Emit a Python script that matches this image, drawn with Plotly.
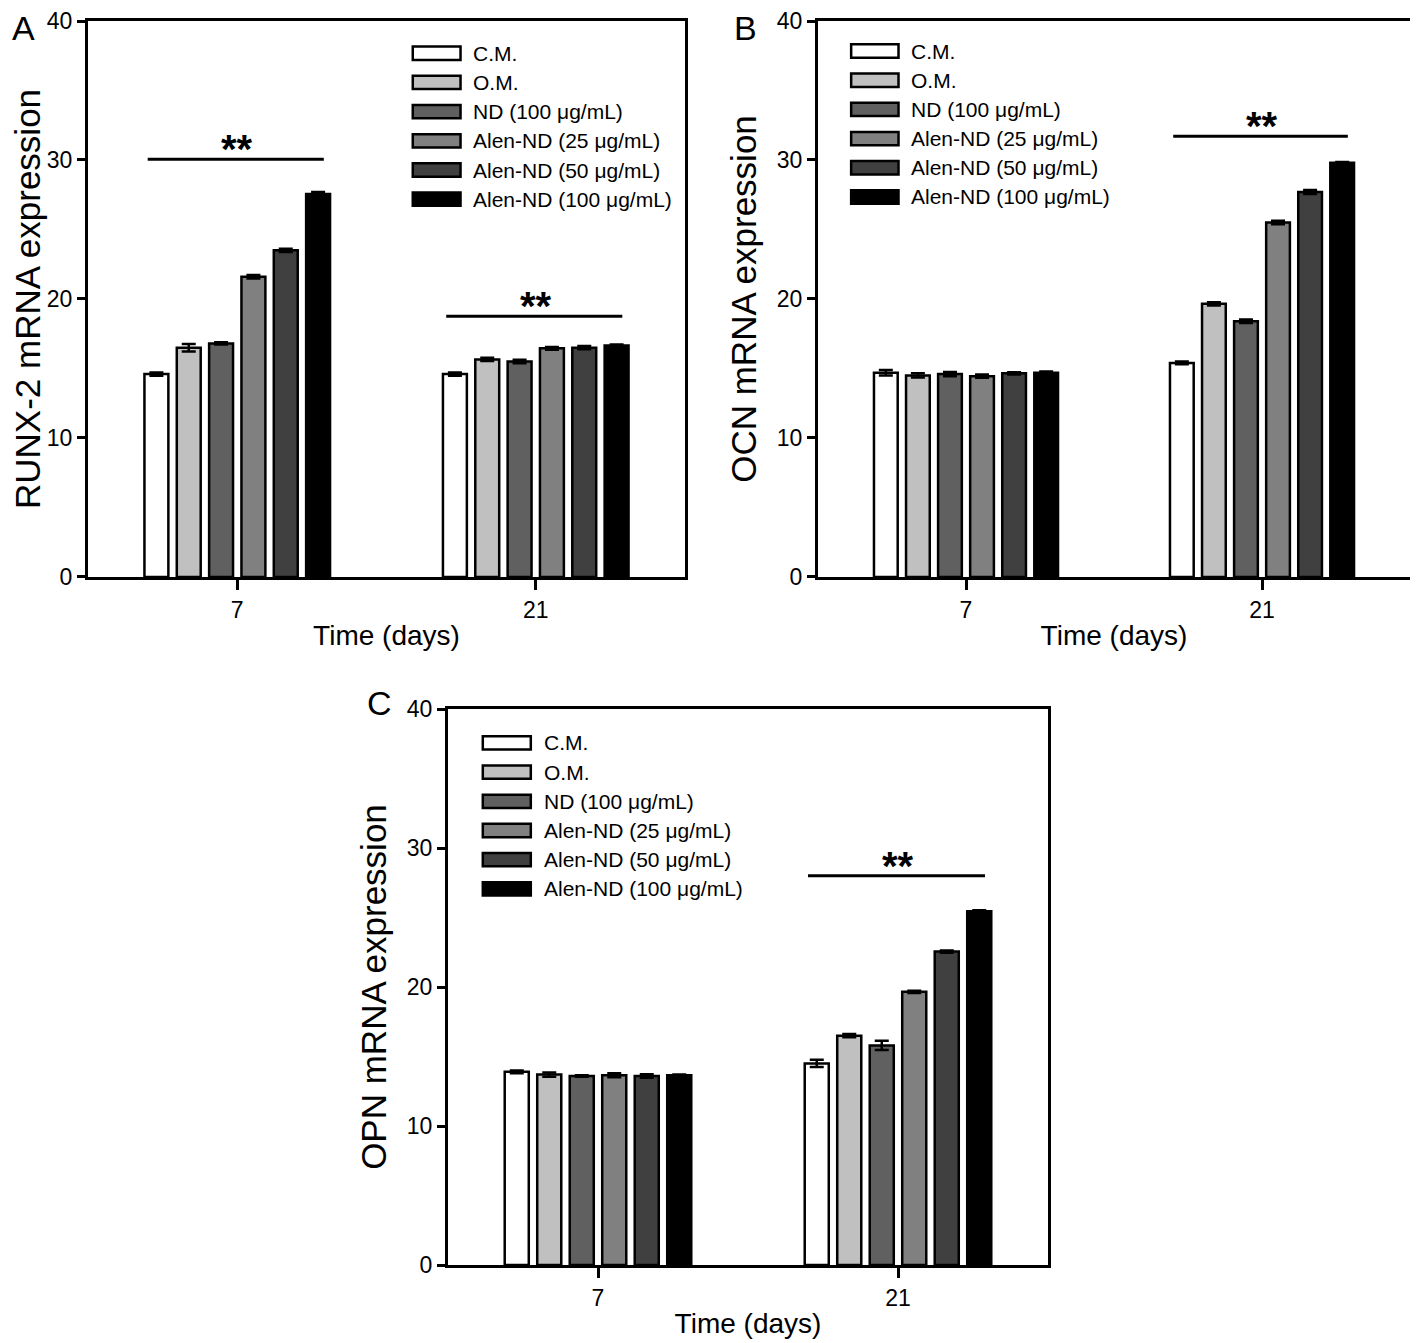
import plotly.graph_objects as go

groups = ["C.M.", "O.M.", "ND (100 μg/mL)", "Alen-ND (25 μg/mL)",
          "Alen-ND (50 μg/mL)", "Alen-ND (100 μg/mL)"]
colors = ["#ffffff", "#c0c0c0", "#606060", "#808080", "#404040", "#000000"]
days = ["7", "21"]

# RUNX-2
runx2_d7 = [14.6, 16.5, 16.8, 21.6, 23.5, 27.55]
runx2_d21 = [14.6, 15.65, 15.5, 16.45, 16.5, 16.65]
runx2_err_d7 = [0.12, 0.27, 0.08, 0.12, 0.12, 0.15]
runx2_err_d21 = [0.12, 0.12, 0.12, 0.1, 0.12, 0.08]

# OCN
ocn_d7 = [14.7, 14.5, 14.6, 14.45, 14.65, 14.7]
ocn_d21 = [15.4, 19.65, 18.4, 25.5, 27.7, 29.8]
ocn_err_d7 = [0.2, 0.15, 0.15, 0.12, 0.08, 0.08]
ocn_err_d21 = [0.1, 0.12, 0.12, 0.12, 0.15, 0.05]

# OPN
opn_d7 = [13.9, 13.7, 13.6, 13.65, 13.6, 13.65]
opn_d21 = [14.5, 16.5, 15.8, 19.65, 22.55, 25.45]
opn_err_d7 = [0.1, 0.15, 0.05, 0.15, 0.12, 0.05]
opn_err_d21 = [0.26, 0.12, 0.33, 0.08, 0.08, 0.08]

# significance bars: (day index, level)
runx2_sig = [(0, 30.05), (1, 18.75)]
ocn_sig = [(1, 31.7)]
opn_sig = [(1, 28.0)]

FONT = "Liberation Sans, Arial"

fig = go.Figure()

panels = [
    ("x", "y", runx2_d7, runx2_d21, runx2_err_d7, runx2_err_d21, runx2_sig,
     "RUNX-2 mRNA expression", (0.544, 0.942)),
    ("x2", "y2", ocn_d7, ocn_d21, ocn_err_d7, ocn_err_d21, ocn_sig,
     "OCN mRNA expression", (0.056, 0.946)),
    ("x3", "y3", opn_d7, opn_d21, opn_err_d7, opn_err_d21, opn_sig,
     "OPN mRNA expression", (0.058, 0.939)),
]

for xa, ya, d7, d21, e7, e21, sig, ytitle, (lx, ly) in panels:
    for i, g in enumerate(groups):
        fig.add_trace(go.Bar(
            x=days, y=[d7[i], d21[i]],
            name=g, xaxis=xa, yaxis=ya, showlegend=False,
            marker=dict(color=colors[i], line=dict(color="black", width=2.5)),
            error_y=dict(type="data", array=[e7[i], e21[i]], color="black",
                         thickness=2.5, width=7),
        ))
    for day_i, level in sig:
        fig.add_shape(type="line", xref=xa, yref=ya,
                      x0=day_i - 0.3, x1=day_i + 0.29, y0=level, y1=level,
                      line=dict(color="black", width=3))
        fig.add_annotation(x=day_i, y=level, xref=xa, yref=ya, text="<b>**</b>",
                           showarrow=False, yanchor="middle", yshift=10,
                           font=dict(family=FONT, size=40, color="black"))
    # legend swatches
    step = 0.0525
    for i, g in enumerate(groups):
        yc = ly - i * step
        fig.add_shape(type="rect", xref=f"{xa} domain", yref=f"{ya} domain",
                      x0=lx, x1=lx + 0.08, y0=yc - 0.012, y1=yc + 0.012,
                      fillcolor=colors[i], line=dict(color="black", width=2.5))
        fig.add_annotation(xref=f"{xa} domain", yref=f"{ya} domain",
                           x=lx + 0.098, y=yc, text=g, showarrow=False,
                           xanchor="left", yanchor="middle",
                           font=dict(family=FONT, size=21, color="black"))

axis_common = dict(showline=True, linecolor="black", linewidth=3, mirror=True,
                   showgrid=False, zeroline=False, ticks="outside",
                   tickwidth=3, tickcolor="black", automargin=False,
                   tickfont=dict(family=FONT, size=23, color="black"))

# page has a body margin; lay out in page pixels and shift
OFF = 8
W, H = 1410, 1335


def px_x(v):
    return (v - OFF) / W


def px_y(v):
    # squeeze slightly so the top tick labels are not clipped
    page = 21 + (v - 15) * (1244 / 1253)
    return 1 - (page - OFF) / H


doms_x = [(px_x(88), px_x(685)), (px_x(818), px_x(1410)), (px_x(448), px_x(1048))]
doms_y = [(px_y(575), px_y(15)), (px_y(575), px_y(15)), (px_y(1268), px_y(708))]

layout = {}
for k, p in enumerate(panels):
    xa, ya, ytitle = p[0], p[1], p[7]
    xname = "xaxis" if xa == "x" else "xaxis" + xa[1:]
    yname = "yaxis" if ya == "y" else "yaxis" + ya[1:]
    layout[xname] = dict(axis_common, domain=doms_x[k], anchor=ya,
                         ticklen=10, type="category",
                         title=dict(text="Time (days)", standoff=4,
                                    font=dict(family=FONT, size=28, color="black")))
    layout[yname] = dict(axis_common, domain=doms_y[k], anchor=xa,
                         range=[0, 40], tickvals=[0, 10, 20, 30, 40], ticklen=8,
                         title=dict(text=ytitle, standoff=10,
                                    font=dict(family=FONT, size=35, color="black")))

fig.update_layout(
    width=W, height=H,
    margin=dict(l=0, r=0, t=0, b=0, autoexpand=False),
    plot_bgcolor="white", paper_bgcolor="white",
    barmode="group", bargap=0.35, bargroupgap=0.26,
    **layout,
)

for letter, px, py in [("A", 23, 22), ("B", 745, 22), ("C", 379, 702)]:
    fig.add_annotation(xref="paper", yref="paper", x=px_x(px), y=px_y(py),
                       text=letter, showarrow=False, xanchor="center",
                       yanchor="middle",
                       font=dict(family=FONT, size=34, color="black"))

fig.write_html("out.html")
